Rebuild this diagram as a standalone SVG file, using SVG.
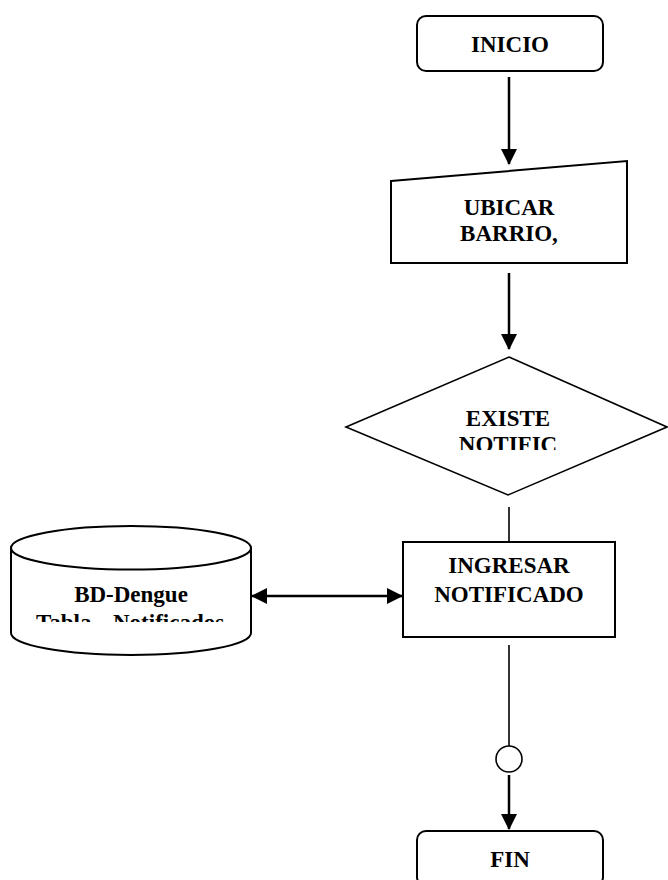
<svg xmlns="http://www.w3.org/2000/svg" width="668" height="880" viewBox="0 0 668 880">
  <style>
    .shape { fill: #ffffff; stroke: #000000; stroke-width: 2; }
    .thin { fill: #ffffff; stroke: #000000; stroke-width: 1.6; }
    .label { font-family: "Liberation Serif", "Times New Roman", serif; font-weight: bold; font-size: 23px; fill: #000000; text-anchor: middle; }
    .start { text-anchor: start; }
    .flow { stroke: #000000; stroke-width: 2.5; fill: none; }
    .plain { stroke: #000000; stroke-width: 1.6; fill: none; }
  </style>
  <defs>
    <marker id="head" markerUnits="userSpaceOnUse" markerWidth="16" markerHeight="16" viewBox="0 0 16 16" refX="15" refY="8" orient="auto-start-reverse">
      <path d="M0,0 L16,8 L0,16 z" fill="#000000"/>
    </marker>
    <clipPath id="clip-decision">
      <rect x="340" y="350" width="330" height="100"/>
    </clipPath>
    <clipPath id="clip-store">
      <rect x="0" y="570" width="260" height="52"/>
    </clipPath>
  </defs>

  <!-- connectors -->
  <g id="connectors">
    <line class="flow" x1="509" y1="77" x2="509" y2="164" marker-end="url(#head)"/>
    <line class="flow" x1="509" y1="273" x2="509" y2="349" marker-end="url(#head)"/>
    <line class="plain" x1="509" y1="507" x2="509" y2="542"/>
    <line class="flow" x1="252" y1="596" x2="402" y2="596" marker-start="url(#head)" marker-end="url(#head)"/>
    <line class="plain" x1="509" y1="645" x2="509" y2="746"/>
    <line class="flow" x1="509" y1="775" x2="509" y2="829" marker-end="url(#head)"/>
  </g>

  <!-- start terminal -->
  <g id="inicio">
    <rect class="shape" x="417" y="16" width="186" height="55" rx="9" ry="9"/>
    <text class="label" x="510" y="52">INICIO</text>
  </g>

  <!-- manual input -->
  <g id="ubicar">
    <polygon class="shape" points="391,181 627,161 627,263 391,263"/>
    <text class="label" x="509" y="215">UBICAR</text>
    <text class="label" x="509" y="241">BARRIO,</text>
  </g>

  <!-- decision -->
  <g id="existe">
    <polygon class="thin" points="509,357 667,427 508,495 346,427"/>
    <text class="label" x="508" y="426">EXISTE</text>
    <g clip-path="url(#clip-decision)">
      <text class="label" x="508" y="452">NOTIFIC</text>
    </g>
  </g>

  <!-- data store -->
  <g id="bd-dengue">
    <path class="shape" d="M11,548 L11,633 A120,22 0 0 0 251,633 L251,548 A120,22 0 0 0 11,548 Z"/>
    <path class="shape" fill="none" d="M11,548 A120,21.5 0 0 0 251,548"/>
    <text class="label" x="131" y="602">BD-Dengue</text>
    <g clip-path="url(#clip-store)">
      <text class="label start" x="36" y="630">Tabla</text>
      <text class="label start" x="113" y="630">Notificados</text>
    </g>
  </g>

  <!-- process -->
  <g id="ingresar">
    <rect class="shape" x="403" y="542" width="212" height="95"/>
    <text class="label" x="509" y="573">INGRESAR</text>
    <text class="label" x="509" y="602">NOTIFICADO</text>
  </g>

  <!-- connector point -->
  <g id="conector">
    <circle class="thin" cx="509" cy="759" r="13"/>
  </g>

  <!-- end terminal -->
  <g id="fin">
    <rect class="shape" x="417" y="831" width="186" height="55" rx="9" ry="9"/>
    <text class="label" x="510" y="867">FIN</text>
  </g>
</svg>
